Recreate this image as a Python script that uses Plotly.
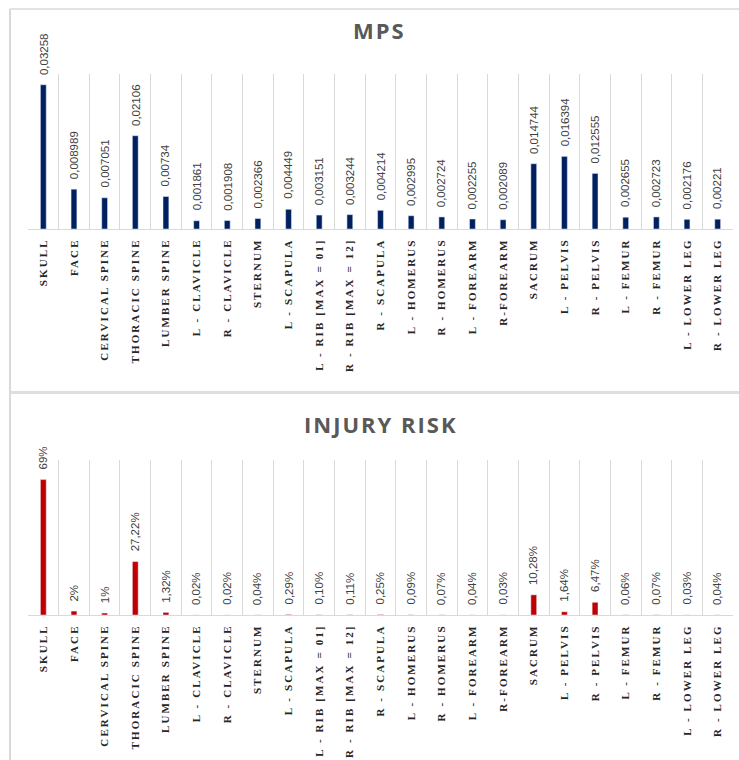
import plotly.graph_objects as go

categories = ["SKULL", "FACE", "CERVICAL SPINE", "THORACIC SPINE", "LUMBER SPINE",
              "L - CLAVICLE", "R - CLAVICLE", "STERNUM", "L - SCAPULA",
              "L - RIB [MAX = 01]", "R - RIB [MAX = 12]", "R - SCAPULA",
              "L - HOMERUS", "R - HOMERUS", "L - FOREARM", "R-FOREARM", "SACRUM",
              "L - PELVIS", "R - PELVIS", "L - FEMUR", "R - FEMUR",
              "L - LOWER LEG", "R - LOWER LEG"]

mps = [0.03258, 0.008989, 0.007051, 0.02106, 0.00734, 0.001861, 0.001908, 0.002366,
       0.004449, 0.003151, 0.003244, 0.004214, 0.002995, 0.002724, 0.002255, 0.002089,
       0.014744, 0.016394, 0.012555, 0.002655, 0.002723, 0.002176, 0.00221]

risk_pct = [69, 2, 1, 27.22, 1.32, 0.02, 0.02, 0.04, 0.29, 0.10, 0.11, 0.25, 0.09,
            0.07, 0.04, 0.03, 10.28, 1.64, 6.47, 0.06, 0.07, 0.03, 0.04]

mps_labels = [str(v).replace(".", ",") for v in mps]
risk_labels = [(f"{v}%" if float(v).is_integer() else f"{v:.2f}%").replace(".", ",")
               for v in risk_pct]
risk = [v / 100 for v in risk_pct]

W, H = 739, 760
def px_x(p):
    return p / W
def px_y(p):
    return 1 - p / H

GRID = "#d9d9d9"
NAVY = "#002060"
RED = "#C00000"

fig = go.Figure()
fig.add_trace(go.Bar(x=categories, y=mps, marker_color=NAVY, width=0.19,
                     xaxis="x", yaxis="y", hoverinfo="x+y"))
fig.add_trace(go.Bar(x=categories, y=risk, marker_color=RED, width=0.19,
                     xaxis="x2", yaxis="y2", hoverinfo="x+y"))

annotations = [
    dict(text="MPS", x=px_x(380), y=px_y(30.5), xref="paper", yref="paper",
         showarrow=False, xanchor="center", yanchor="middle",
         font=dict(family="Open Sans", size=22, color="#595959", weight="bold")),
    dict(text="INJURY RISK", x=px_x(381), y=px_y(423.5), xref="paper", yref="paper",
         showarrow=False, xanchor="center", yanchor="middle",
         font=dict(family="Open Sans", size=22, color="#595959", weight="bold")),
]
val_font = dict(family="Liberation Sans", size=11.5, color="#404040")
for c, v, t in zip(categories, mps, mps_labels):
    annotations.append(dict(x=c, y=v, xref="x", yref="y", text=t, textangle=-90,
                            showarrow=False, yanchor="bottom", xanchor="center",
                            yshift=8, font=val_font))
for c, v, t in zip(categories, risk, risk_labels):
    annotations.append(dict(x=c, y=v, xref="x2", yref="y2", text=t, textangle=-90,
                            showarrow=False, yanchor="bottom", xanchor="center",
                            yshift=8, font=val_font))

xcommon = dict(type="category", tickson="boundaries", showgrid=True, gridcolor=GRID,
               gridwidth=1, showline=True, linecolor=GRID, linewidth=1, ticks="",
               tickangle=-90, ticklabelstandoff=4,
               tickfont=dict(family="Liberation Serif", size=11, color="#262626",
                             weight="bold"),
               domain=[px_x(28), px_x(733)], fixedrange=True)
ycommon = dict(showgrid=False, zeroline=False, showticklabels=False, showline=False,
               ticks="", fixedrange=True)

shapes = [
    dict(type="line", xref="paper", yref="paper", x0=px_x(10), x1=1.01,
         y0=px_y(9), y1=px_y(9), line=dict(color=GRID, width=1.5)),
    dict(type="line", xref="paper", yref="paper", x0=px_x(10), x1=px_x(10),
         y0=px_y(9), y1=-0.01, line=dict(color=GRID, width=2)),
    dict(type="line", xref="paper", yref="paper", x0=px_x(10), x1=1.01,
         y0=px_y(392.5), y1=px_y(392.5), line=dict(color="#dedede", width=3)),
]

fig.update_layout(
    width=W, height=H, autosize=False,
    margin=dict(l=0, r=0, t=0, b=0),
    paper_bgcolor="white", plot_bgcolor="white",
    showlegend=False,
    xaxis=dict(xcommon, anchor="y"),
    yaxis=dict(ycommon, domain=[px_y(229), px_y(74)], range=[0, 0.035], anchor="x"),
    xaxis2=dict(xcommon, anchor="y2"),
    yaxis2=dict(ycommon, domain=[px_y(615), px_y(460)], range=[0, 0.79], anchor="x2"),
    annotations=annotations,
    shapes=shapes,
)

post = """
var s = document.createElement('style');
s.innerHTML = 'html,body{margin:0;padding:0;overflow:hidden;} ' +
  '.xtick text, .x2tick text{letter-spacing:2.1px;} ' +
  'g.annotation[data-index="0"] text, g.annotation[data-index="1"] text{letter-spacing:2px;}';
document.head.appendChild(s);
"""

fig.write_html("out.html", post_script=post, config={"displayModeBar": False})
